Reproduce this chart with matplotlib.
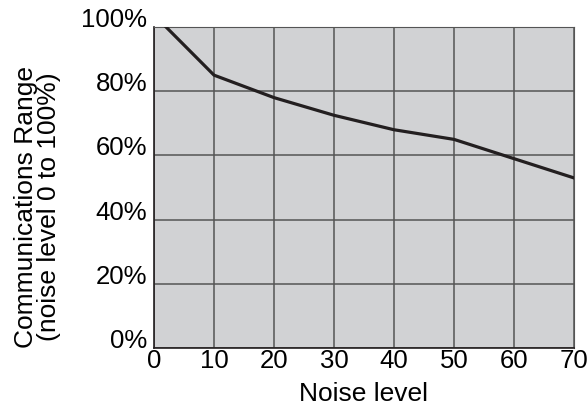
import matplotlib.pyplot as plt

# data
noise = [2, 10, 20, 30, 40, 50, 60, 70]
comm_range = [100, 85, 78, 72.5, 68, 65, 59, 53]
x_ticks = [0, 10, 20, 30, 40, 50, 60, 70]
y_ticks = [0, 20, 40, 60, 80, 100]
y_labels = ['0%', '20%', '40%', '60%', '80%', '100%']

plt.rcParams['font.family'] = ['Liberation Sans', 'DejaVu Sans']

fig = plt.figure(figsize=(5.88, 4.09), dpi=100)
ax = fig.add_axes([0.262, 0.149, 0.714, 0.785])
ax.set_facecolor('#d1d2d4')

ax.plot(noise, comm_range, color='#231f20', linewidth=2.3, zorder=3)

ax.set_xlim(0, 70)
ax.set_ylim(0, 100)
ax.set_xticks(x_ticks)
ax.set_yticks(y_ticks)
ax.set_yticklabels(y_labels)
ax.tick_params(length=0, labelsize=18.5)
ax.tick_params(axis='x', pad=1)
ax.tick_params(axis='y', pad=5)
for lbl in ax.get_yticklabels():
    lbl.set_va('baseline')

ax.grid(True, color='#555555', linewidth=1.1)
ax.set_axisbelow(True)
for side in ['top', 'right']:
    ax.spines[side].set_color('#555555')
for side in ['left', 'bottom']:
    ax.spines[side].set_color('#231f20')
    ax.spines[side].set_linewidth(1.2)

ax.set_xlabel('Noise level', fontsize=19, labelpad=6)
ax.set_ylabel('Communications Range\n(noise level 0 to 100%)', fontsize=19,
              linespacing=0.95)
ax.yaxis.set_label_coords(-0.222, 0.44)

fig.savefig('out.png', dpi=100)
